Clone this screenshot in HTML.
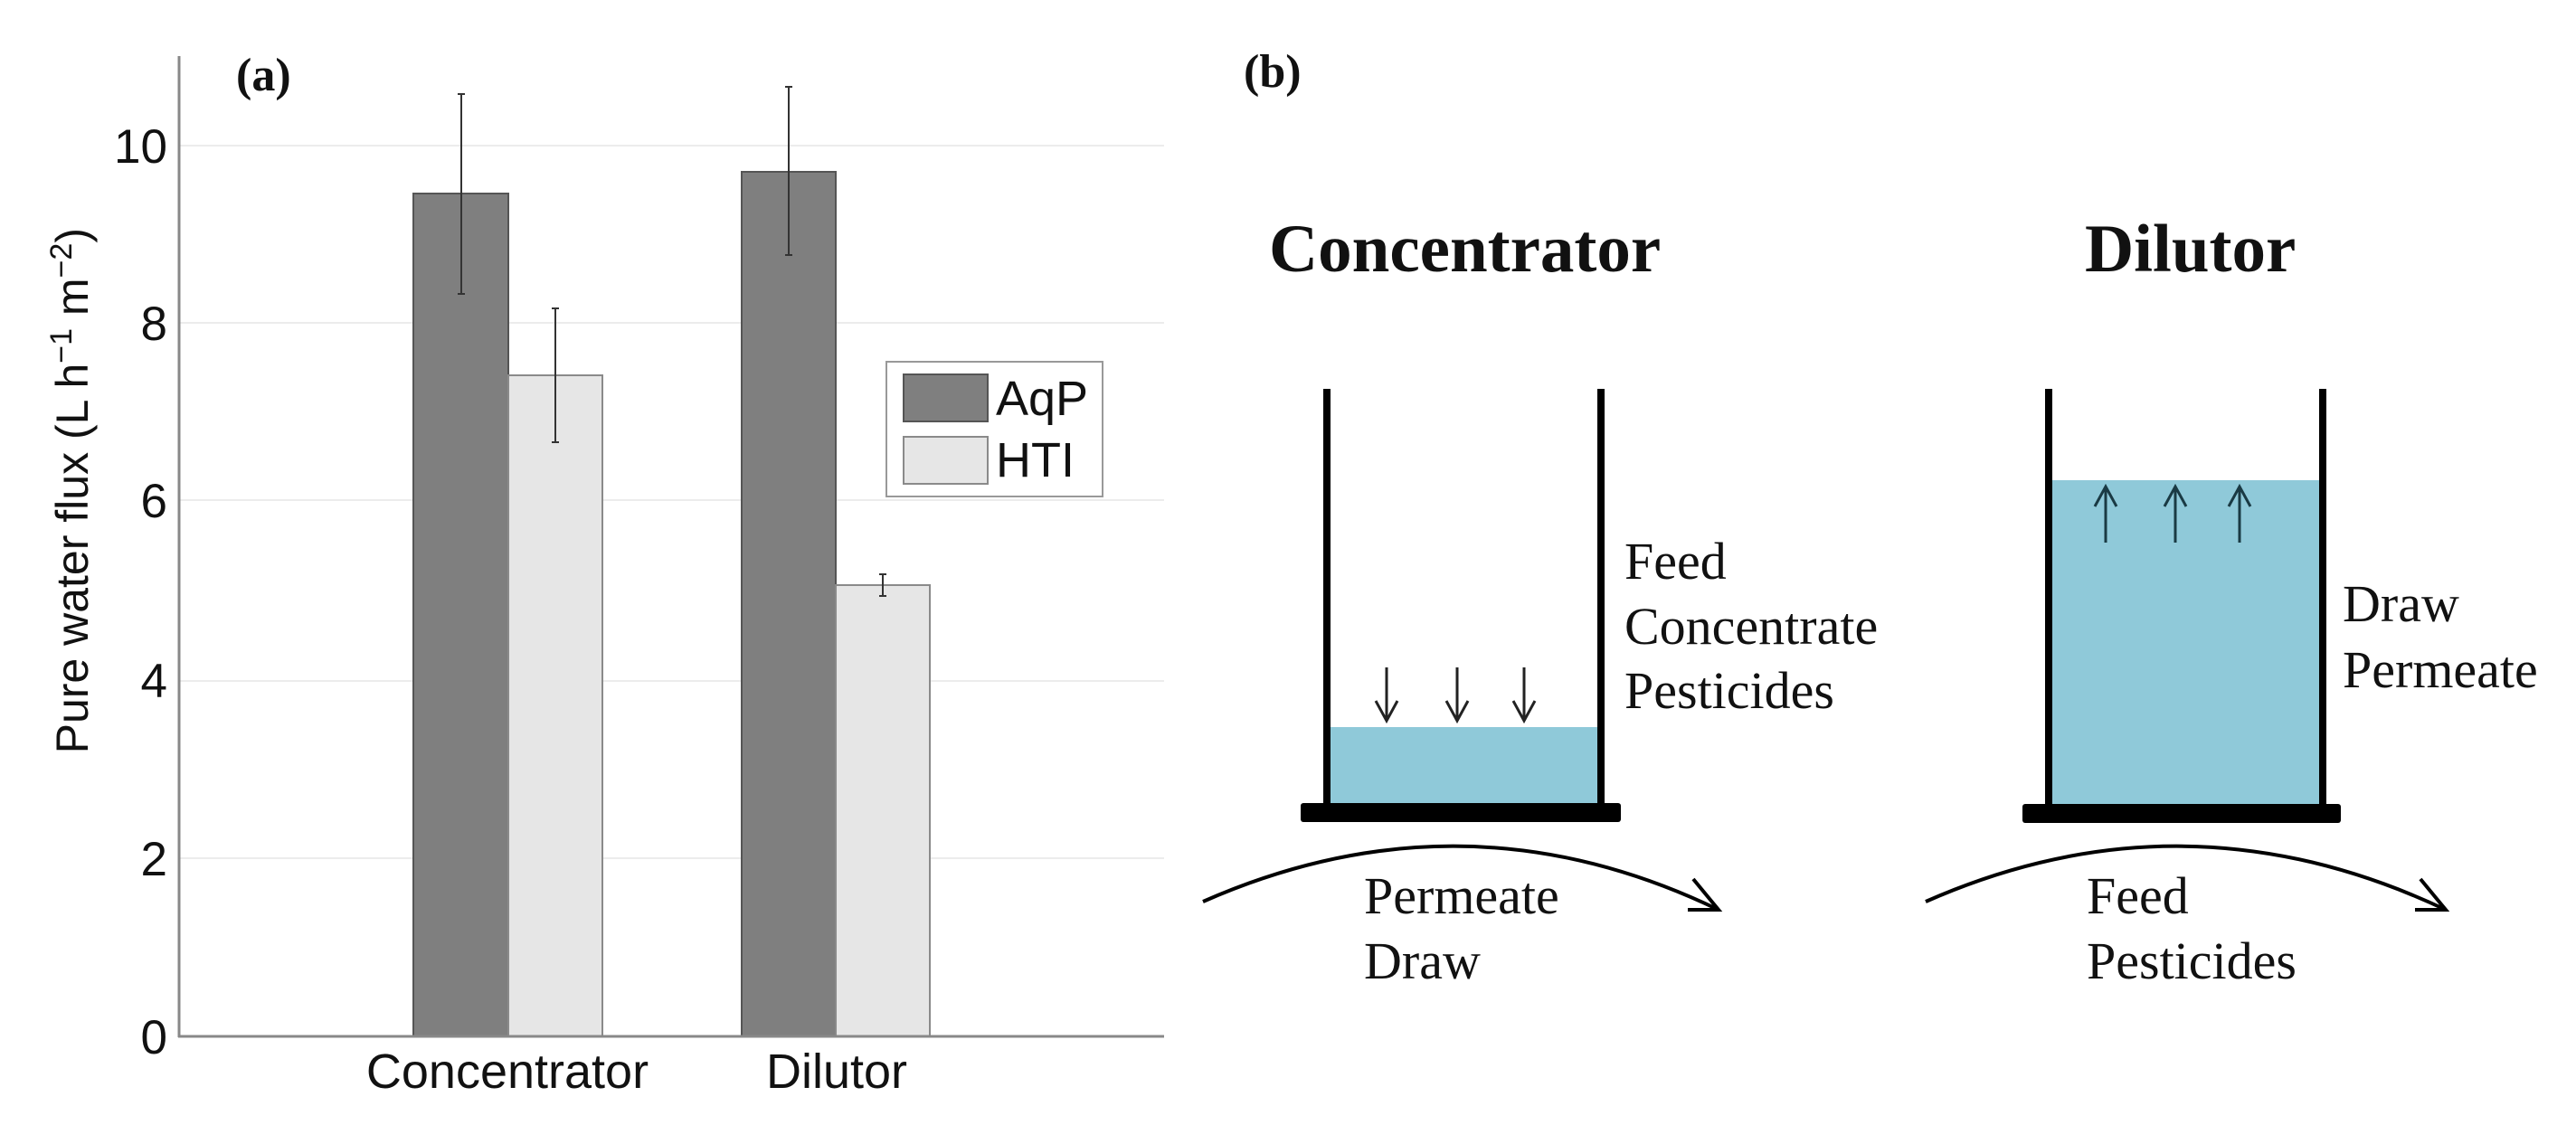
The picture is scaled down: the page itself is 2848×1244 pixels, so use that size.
<!DOCTYPE html>
<html><head><meta charset="utf-8"><style>
html,body{margin:0;padding:0;background:#fff;}
svg{display:block;}
</style></head><body>
<svg width="2848" height="1244" viewBox="0 0 2848 1244" xmlns="http://www.w3.org/2000/svg">
<rect width="2848" height="1244" fill="#fff"/>
<g stroke="#ececec" stroke-width="2">
<line x1="198" y1="949" x2="1287" y2="949"/>
<line x1="198" y1="753" x2="1287" y2="753"/>
<line x1="198" y1="553" x2="1287" y2="553"/>
<line x1="198" y1="357" x2="1287" y2="357"/>
<line x1="198" y1="161" x2="1287" y2="161"/>
</g>
<rect x="457" y="214" width="105" height="932" fill="#7f7f7f" stroke="#555" stroke-width="2"/>
<rect x="562" y="415" width="104" height="731" fill="#e6e6e6" stroke="#8a8a8a" stroke-width="2"/>
<rect x="820" y="190" width="104" height="956" fill="#7f7f7f" stroke="#555" stroke-width="2"/>
<rect x="924" y="647" width="104" height="499" fill="#e6e6e6" stroke="#8a8a8a" stroke-width="2"/>
<g stroke="#333" stroke-width="2">
<line x1="510" y1="104" x2="510" y2="325"/><line x1="506" y1="104" x2="514" y2="104"/><line x1="506" y1="325" x2="514" y2="325"/>
<line x1="614" y1="341" x2="614" y2="489"/><line x1="610" y1="341" x2="618" y2="341"/><line x1="610" y1="489" x2="618" y2="489"/>
<line x1="872" y1="96" x2="872" y2="282"/><line x1="868" y1="96" x2="876" y2="96"/><line x1="868" y1="282" x2="876" y2="282"/>
<line x1="976" y1="635" x2="976" y2="659"/><line x1="972" y1="635" x2="980" y2="635"/><line x1="972" y1="659" x2="980" y2="659"/>
</g>
<line x1="198" y1="62" x2="198" y2="1147" stroke="#888" stroke-width="3"/>
<line x1="197" y1="1146" x2="1287" y2="1146" stroke="#888" stroke-width="3"/>
<g font-family="Liberation Sans, sans-serif" font-size="53" fill="#111" text-anchor="end">
<text x="185" y="1165">0</text>
<text x="185" y="968">2</text>
<text x="185" y="771">4</text>
<text x="185" y="572">6</text>
<text x="185" y="376">8</text>
<text x="185" y="180">10</text>
</g>
<text transform="translate(97,252) rotate(-90)" font-family="Liberation Sans, sans-serif" font-size="50" fill="#111" text-anchor="end">Pure water flux (L h<tspan font-size="34" dy="-18">−1</tspan><tspan dy="18"> m</tspan><tspan font-size="34" dy="-18">−2</tspan><tspan dy="18">)</tspan></text>
<g font-family="Liberation Sans, sans-serif" font-size="54" fill="#111" text-anchor="middle">
<text x="561" y="1203">Concentrator</text>
<text x="925" y="1203">Dilutor</text>
</g>
<rect x="980" y="400" width="239" height="149" fill="#fff" stroke="#999" stroke-width="2"/>
<rect x="999" y="414" width="93" height="52" fill="#7f7f7f" stroke="#555" stroke-width="2"/>
<rect x="999" y="483" width="93" height="52" fill="#e6e6e6" stroke="#8a8a8a" stroke-width="2"/>
<g font-family="Liberation Sans, sans-serif" font-size="54" fill="#111">
<text x="1101" y="459">AqP</text>
<text x="1101" y="527">HTI</text>
</g>
<text x="261" y="100" font-family="Liberation Serif, serif" font-weight="bold" font-size="52" fill="#111">(a)</text>

<text x="1375" y="96" font-family="Liberation Serif, serif" font-weight="bold" font-size="52" fill="#111">(b)</text>
<g font-family="Liberation Serif, serif" font-weight="bold" font-size="75" fill="#111">
<text x="1403" y="300">Concentrator</text>
<text x="2305" y="300">Dilutor</text>
</g>
<rect x="1467" y="804" width="303" height="86" fill="#8fc9d9"/>
<g stroke="#000" stroke-width="8">
<line x1="1467" y1="430" x2="1467" y2="892"/>
<line x1="1770" y1="430" x2="1770" y2="892"/>
</g>
<rect x="1438" y="888" width="354" height="21" rx="3" fill="#000"/>
<g stroke="#222" stroke-width="3" fill="none">
<path d="M1533 738 V797 M1521 775 L1533 797 L1545 775"/>
<path d="M1611 738 V797 M1599 775 L1611 797 L1623 775"/>
<path d="M1685 738 V797 M1673 775 L1685 797 L1697 775"/>
</g>
<g font-family="Liberation Serif, serif" font-size="58" fill="#111">
<text x="1796" y="640">Feed</text>
<text x="1796" y="712">Concentrate</text>
<text x="1796" y="783">Pesticides</text>
<text x="1508" y="1010">Permeate</text>
<text x="1508" y="1082">Draw</text>
</g>
<path d="M1330 997 Q1618 870 1900 1006" stroke="#000" stroke-width="4" fill="none"/>
<path d="M1866 1006 H1900 L1872 972" stroke="#000" stroke-width="4" fill="none"/>
<rect x="2265" y="531" width="303" height="359" fill="#8fc9d9"/>
<g stroke="#000" stroke-width="8">
<line x1="2265" y1="430" x2="2265" y2="892"/>
<line x1="2568" y1="430" x2="2568" y2="892"/>
</g>
<rect x="2236" y="889" width="352" height="21" rx="3" fill="#000"/>
<g stroke="#1a3a44" stroke-width="3" fill="none">
<path d="M2328 600 V538 M2316 560 L2328 538 L2340 560"/>
<path d="M2405 600 V538 M2393 560 L2405 538 L2417 560"/>
<path d="M2476 600 V538 M2464 560 L2476 538 L2488 560"/>
</g>
<g font-family="Liberation Serif, serif" font-size="58" fill="#111">
<text x="2590" y="687">Draw</text>
<text x="2590" y="760">Permeate</text>
<text x="2307" y="1010">Feed</text>
<text x="2307" y="1082">Pesticides</text>
</g>
<path d="M2129 997 Q2416 870 2704 1006" stroke="#000" stroke-width="4" fill="none"/>
<path d="M2670 1006 H2704 L2676 972" stroke="#000" stroke-width="4" fill="none"/>
</svg>
</body></html>
